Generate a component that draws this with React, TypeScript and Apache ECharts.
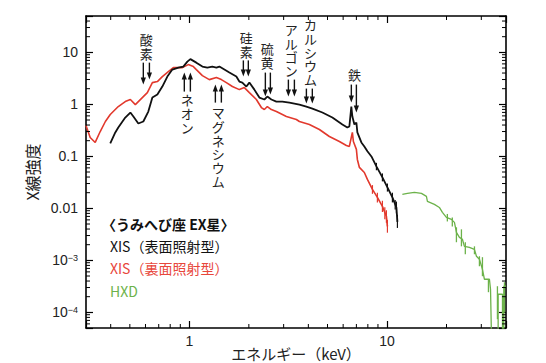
import React, { useEffect, useRef } from 'react';
import * as echarts from 'echarts';

// ---- Axis ranges ----
const xMin = 0.3;
const xMax = 40;
const yMin = 5e-5;
const yMax = 50;

// ---- XIS front-illuminated (black) ----
const fiKeV = [0.398, 0.422, 0.437, 0.474, 0.503, 0.521, 0.552, 0.585, 0.62, 0.65, 0.689, 0.73, 0.774, 0.82, 0.88, 0.932, 0.977, 1.012, 1.085, 1.164, 1.233, 1.307, 1.37, 1.419, 1.504, 1.594, 1.729, 1.791, 1.854, 1.943, 2.012, 2.133, 2.261, 2.396, 2.481, 2.6, 2.756, 2.955, 3.207, 3.604, 3.909, 4.193, 4.711, 5.292, 5.946, 6.3, 6.45, 6.6, 6.68, 6.84, 7.0, 7.08, 7.42, 7.68, 7.96, 8.34, 8.84, 9.48, 10.05, 10.65, 11.16, 11.29];
const fiFlux = [0.177, 0.288, 0.359, 0.558, 0.696, 0.583, 0.428, 0.468, 0.727, 1.35, 1.54, 2.2, 3.42, 4.66, 5.09, 5.32, 6.63, 7.4, 6.34, 5.32, 5.09, 5.32, 5.09, 5.32, 4.66, 4.08, 3.42, 2.74, 2.62, 2.2, 2.62, 1.92, 1.35, 1.24, 1.41, 1.24, 1.13, 1.13, 1.08, 0.99, 0.907, 0.83, 0.696, 0.558, 0.41, 0.359, 0.375, 0.907, 0.583, 0.41, 0.447, 0.288, 0.185, 0.155, 0.125, 0.0995, 0.064, 0.0393, 0.0253, 0.0163, 0.0104, 0.0055];
const fiErrKeV = [8.84, 9.48, 10.05, 10.65, 11.0, 11.16, 11.29];
const fiErrLo = [0.054, 0.033, 0.021, 0.013, 0.0095, 0.008, 0.0042];
const fiErrHi = [0.075, 0.047, 0.03, 0.02, 0.0145, 0.0135, 0.0075];

// ---- XIS back-illuminated (red) ----
const biKeV = [0.3, 0.315, 0.334, 0.354, 0.376, 0.398, 0.437, 0.474, 0.503, 0.533, 0.585, 0.613, 0.65, 0.689, 0.73, 0.783, 0.83, 0.922, 0.988, 1.048, 1.085, 1.164, 1.262, 1.37, 1.452, 1.539, 1.651, 1.791, 1.898, 2.012, 2.183, 2.314, 2.396, 2.481, 2.6, 2.756, 3.097, 3.479, 3.604, 4.049, 4.549, 5.11, 5.742, 6.23, 6.45, 6.68, 6.76, 7.0, 7.08, 7.25, 7.68, 7.96, 8.44, 8.94, 9.48, 9.93, 10.05];
const biFlux = [0.392, 0.23, 0.185, 0.3, 0.468, 0.637, 0.907, 1.13, 1.24, 0.99, 1.41, 1.68, 2.62, 2.74, 3.42, 4.26, 5.09, 5.09, 5.81, 5.32, 4.66, 3.57, 2.99, 3.27, 2.99, 2.62, 2.2, 1.92, 2.1, 1.68, 1.24, 0.868, 0.795, 0.907, 0.795, 0.727, 0.583, 0.511, 0.468, 0.41, 0.328, 0.241, 0.193, 0.162, 0.155, 0.288, 0.193, 0.136, 0.0872, 0.0612, 0.049, 0.036, 0.0231, 0.0163, 0.0109, 0.00702, 0.00451];
const biErrKeV = [8.44, 8.94, 9.48, 9.75, 9.93, 10.05];
const biErrLo = [0.019, 0.013, 0.0085, 0.0062, 0.0053, 0.0034];
const biErrHi = [0.028, 0.02, 0.014, 0.0105, 0.0092, 0.006];

// ---- HXD (green) ----
const hxdKeV = [11.96, 12.68, 13.76, 14.94, 15.83, 16.01, 17.37, 18.41, 19.07, 19.98, 21.18, 21.94, 22.45, 23.25, 24.07, 24.64, 26.12, 27.69, 28.35, 29.35, 30.4, 31.11, 32.98, 33.4, 33.8, 36.5, 36.5, 38.4, 38.4, 39.0, 39.0, 40];
const hxdFlux = [0.0186, 0.0194, 0.0203, 0.0194, 0.017, 0.0136, 0.0119, 0.0104, 0.00837, 0.00671, 0.00614, 0.00538, 0.00346, 0.00277, 0.00254, 0.00186, 0.00178, 0.00163, 0.0012, 0.00105, 0.000674, 0.000433, 0.000433, 0.000278, 0.00003, 0.00003, 0.000223, 0.000223, 0.00003, 0.00003, 0.000318, 0.000318];
const hxdErrKeV = [20.2, 21.4, 22.45, 23.8, 24.9, 27.7, 29.35, 30.4, 32.6, 36.2, 39.3];
const hxdErrLo = [0.0056, 0.0045, 0.00223, 0.00186, 0.00131, 0.00131, 0.00077, 0.000495, 0.000244, 0.000074, 0.0001];
const hxdErrHi = [0.0078, 0.0067, 0.00432, 0.00395, 0.00223, 0.00186, 0.0012, 0.00115, 0.000433, 0.000318, 0.00038];

// ---- Line annotations ----
const arrowKeV = [0.585, 0.628, 0.943, 1.012, 1.354, 1.452, 1.876, 1.988, 2.424, 2.57, 3.17, 3.4, 3.91, 4.19, 6.6, 7.0];
const arrowTail = [6.34, 6.34, 1.76, 1.76, 1.08, 1.08, 7.0, 7.0, 4.08, 4.08, 2.99, 2.99, 2.01, 2.01, 2.4, 2.4];
const arrowHead = [2.4, 2.99, 4.08, 4.08, 2.4, 2.4, 3.42, 3.42, 1.41, 1.54, 1.41, 1.41, 1.036, 1.036, 1.08, 0.696];

const labelText = ['酸素', 'ネオン', 'マグネシウム', '硅素', '硫黄', 'アルゴン', 'カルシウム', '鉄'];
const labelKeV = [0.606, 0.977, 1.402, 1.943, 2.48, 3.28, 4.1, 6.84];
const labelAnchor = [6.93, 1.68, 0.948, 7.57, 4.66, 3.27, 2.2, 2.74];
const labelSide = ['above', 'below', 'below', 'above', 'above', 'above', 'above', 'above'];

// ---- Legend ----
const legendTitle = '〈うみへび座 EX星〉';
const legendItems = ['XIS（表面照射型）', 'XIS（裏面照射型）', 'HXD'];

const BLACK = '#111111';
const RED = '#e2392d';
const RED_TEXT = '#e8463b';
const GREEN = '#6cb24a';
const LATIN = '"Liberation Sans", Arial, sans-serif';
const CJK = '"Noto Sans CJK JP", "Liberation Sans", sans-serif';

const zip = (a: number[], b: number[]) => a.map((v, i) => [v, b[i]]);

function minorValues(lo: number, hi: number): number[] {
  const out: number[] = [];
  for (let k = -6; k <= 3; k++) {
    for (let m = 2; m <= 9; m++) {
      const v = m * Math.pow(10, k);
      if (v > lo * 1.001 && v < hi / 1.001) out.push(v);
    }
  }
  return out;
}

function errorSeries(keV: number[], lo: number[], hi: number[], color: string, width: number, z: number) {
  return {
    type: 'custom', silent: true, z,
    data: keV.map((k, i) => [k, lo[i], hi[i]]),
    renderItem: (_p: any, api: any) => {
      const a = api.coord([api.value(0), api.value(1)]);
      const b = api.coord([api.value(0), api.value(2)]);
      return { type: 'line', shape: { x1: a[0], y1: a[1], x2: b[0], y2: b[1] }, style: { stroke: color, lineWidth: width } };
    },
  };
}

export default function App() {
  const ref = useRef<HTMLDivElement>(null);

  useEffect(() => {
    if (!ref.current) return;
    const chart = echarts.init(ref.current, undefined, { renderer: 'svg' });

    const minorX = minorValues(xMin, xMax);
    const minorY = minorValues(yMin, yMax);

    const yLabel = (v: number) => {
      const lg = Math.log10(v);
      const e = Math.round(lg);
      if (Math.abs(lg - e) > 1e-6) return '';
      if (e >= 0) return '{n|' + String(Math.round(Math.pow(10, e))) + '}';
      if (e === -1) return '{n|0.1}';
      if (e === -2) return '{n|0.01}';
      return '{n|10}{s|−' + String(-e) + '}';
    };
    const xLabel = (v: number) => {
      const lg = Math.log10(v);
      const e = Math.round(lg);
      if (Math.abs(lg - e) > 1e-6) return '';
      return String(Math.round(Math.pow(10, e)));
    };

    const mkLine = () => ({ show: true, onZero: false, lineStyle: { color: '#000', width: 1.6 } });
    const mkTick = () => ({ show: true, inside: true, length: 7, lineStyle: { color: '#000', width: 1.2 } });

    const option: any = {
      animation: false,
      backgroundColor: '#fff',
      grid: { left: 86, right: 40, top: 16, bottom: 35, containLabel: false, outerBoundsMode: 'none' },
      xAxis: [
        {
          type: 'log', logBase: 10, min: xMin, max: xMax, position: 'bottom',
          axisLine: mkLine(), axisTick: mkTick(), splitLine: { show: false },
          axisLabel: { formatter: xLabel, fontSize: 14, fontFamily: LATIN, color: '#222', margin: 6 },
          name: 'エネルギー（keV）', nameLocation: 'middle', nameGap: 18, nameMoveOverlap: false,
          nameTextStyle: { fontSize: 15, fontFamily: CJK, color: '#222' },
        },
        {
          type: 'log', logBase: 10, min: xMin, max: xMax, position: 'top',
          axisLine: mkLine(), axisTick: mkTick(), splitLine: { show: false }, axisLabel: { show: false },
        },
      ],
      yAxis: [
        {
          type: 'log', logBase: 10, min: yMin, max: yMax, position: 'left',
          axisLine: mkLine(), axisTick: mkTick(), splitLine: { show: false },
          axisLabel: {
            formatter: yLabel, margin: 8, color: '#222',
            rich: {
              n: { fontSize: 14, lineHeight: 14, fontFamily: LATIN, color: '#222' },
              s: { fontSize: 9, lineHeight: 9, fontFamily: LATIN, color: '#222', verticalAlign: 'top' },
            },
          },
          name: 'X線強度', nameLocation: 'middle', nameGap: 46, nameRotate: 90, nameMoveOverlap: false,
          nameTextStyle: { fontSize: 16, fontFamily: CJK, color: '#222' },
        },
        {
          type: 'log', logBase: 10, min: yMin, max: yMax, position: 'right',
          axisLine: mkLine(), axisTick: mkTick(), splitLine: { show: false }, axisLabel: { show: false },
        },
      ],
      series: [
        {
          type: 'custom', xAxisIndex: 0, yAxisIndex: 0, silent: true, z: 5,
          data: [[1, 1]],
          renderItem: (params: any, api: any) => {
            const cs = params.coordSys;
            const children: any[] = [];
            const st = { stroke: '#000', lineWidth: 1 };
            const L = 4;
            minorX.forEach((v) => {
              const px = api.coord([v, 1])[0];
              children.push({ type: 'line', shape: { x1: px, y1: cs.y + cs.height, x2: px, y2: cs.y + cs.height - L }, style: st });
              children.push({ type: 'line', shape: { x1: px, y1: cs.y, x2: px, y2: cs.y + L }, style: st });
            });
            minorY.forEach((v) => {
              const py = api.coord([1, v])[1];
              children.push({ type: 'line', shape: { x1: cs.x, y1: py, x2: cs.x + L, y2: py }, style: st });
              children.push({ type: 'line', shape: { x1: cs.x + cs.width, y1: py, x2: cs.x + cs.width - L, y2: py }, style: st });
            });
            return { type: 'group', children };
          },
        },
        {
          name: 'HXD', type: 'line', data: zip(hxdKeV, hxdFlux), showSymbol: false,
          lineStyle: { color: GREEN, width: 1.3 }, itemStyle: { color: GREEN }, z: 3,
        },
        errorSeries(hxdErrKeV, hxdErrLo, hxdErrHi, GREEN, 1.3, 3),
        {
          name: 'XIS BI', type: 'line', data: zip(biKeV, biFlux), showSymbol: false,
          lineStyle: { color: RED, width: 1.6 }, itemStyle: { color: RED }, z: 3,
        },
        errorSeries(biErrKeV, biErrLo, biErrHi, RED, 1.2, 3),
        {
          name: 'XIS FI', type: 'line', data: zip(fiKeV, fiFlux), showSymbol: false,
          lineStyle: { color: BLACK, width: 1.8 }, itemStyle: { color: BLACK }, z: 4,
        },
        errorSeries(fiErrKeV, fiErrLo, fiErrHi, BLACK, 1.2, 4),
        {
          type: 'custom', silent: true, z: 6,
          data: arrowKeV.map((k, i) => [k, arrowTail[i], arrowHead[i]]),
          renderItem: (_p: any, api: any) => {
            const t = api.coord([api.value(0), api.value(1)]);
            const h = api.coord([api.value(0), api.value(2)]);
            const dir = h[1] > t[1] ? 1 : -1;
            const hl = 7;
            const hw = 2.6;
            return {
              type: 'group',
              children: [
                { type: 'line', shape: { x1: t[0], y1: t[1], x2: h[0], y2: h[1] - dir * (hl - 1) }, style: { stroke: '#111', lineWidth: 1.4 } },
                { type: 'polygon', shape: { points: [[h[0], h[1]], [h[0] - hw, h[1] - dir * hl], [h[0] + hw, h[1] - dir * hl]] }, style: { fill: '#111' } },
              ],
            };
          },
        },
        {
          type: 'custom', silent: true, z: 6,
          data: labelKeV.map((k, i) => [k, labelAnchor[i], i]),
          renderItem: (_p: any, api: any) => {
            const idx = api.value(2);
            const p = api.coord([api.value(0), api.value(1)]);
            const txt = labelText[idx].split('').join('\n');
            return {
              type: 'text', x: p[0], y: p[1],
              style: {
                text: txt, fill: '#222', font: '13px ' + CJK, lineHeight: 13.8,
                align: 'center', verticalAlign: labelSide[idx] === 'above' ? 'bottom' : 'top',
              },
            };
          },
        },
      ],
      graphic: [
        { type: 'text', left: 102, top: 217, style: { text: legendTitle, fill: '#111', font: 'bold 14px ' + CJK } },
        { type: 'text', left: 110, top: 239, style: { text: legendItems[0], fill: '#111', font: '14px ' + CJK } },
        { type: 'text', left: 110, top: 261, style: { text: legendItems[1], fill: RED_TEXT, font: '14px ' + CJK } },
        { type: 'text', left: 110, top: 284, style: { text: legendItems[2], fill: GREEN, font: '14px ' + CJK } },
      ],
    };

    chart.setOption(option);
    return () => chart.dispose();
  }, []);

  return (
    <div
      ref={ref}
      style={{ position: 'fixed', left: 0, top: 0, width: 546, height: 363, background: '#fff' }}
    />
  );
}
